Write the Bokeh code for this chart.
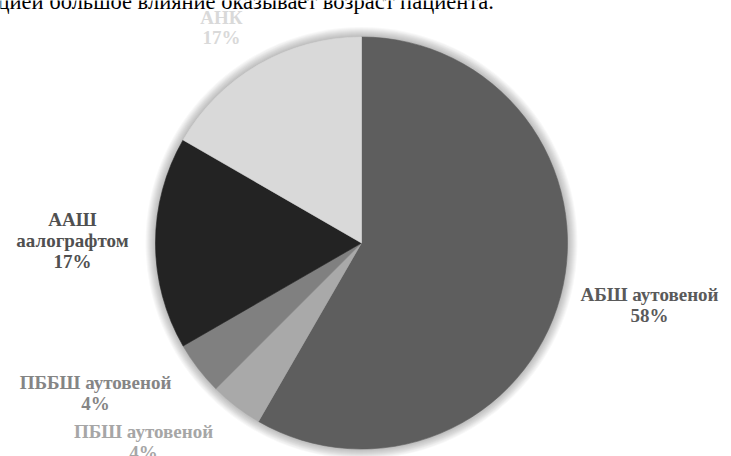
from bokeh.plotting import figure
from bokeh.models import Range1d, ColumnDataSource
from bokeh.core.properties import value
from bokeh.embed import file_html
from bokeh.resources import INLINE
import math

# ---- data (clockwise from 12 o'clock) ----
categories = ["АБШ аутовеной", "ПБШ аутовеной", "ПББШ аутовеной", "ААШ\nаалографтом", "АНК"]
counts = [14, 1, 1, 4, 4]
slice_colors = ["#5e5e5e", "#a9a9a9", "#808080", "#232323", "#d9d9d9"]
label_colors = ["#5a5a5a", "#a6a6a6", "#858585", "#505050", "#d9d9d9"]
top_text = "цией большое влияние оказывает возраст пациента."

W, H = 731, 456
cx, cy, R = 361, 213.5, 206
label_pos = [(649, 151.5), (143, 14.5), (95, 63.5), (72, 216), (221, 429)]

total = sum(counts)
starts, ends, texts = [], [], []
cum = 0
for c, name in zip(counts, categories):
    a0 = 90 - 360 * cum / total
    cum += c
    a1 = 90 - 360 * cum / total
    starts.append(math.radians(a1))
    ends.append(math.radians(a0))
    texts.append(f"{name}\n{round(100 * c / total)}%")

p = figure(width=W, height=H, output_backend="svg", toolbar_location=None,
           x_range=Range1d(0, W), y_range=Range1d(0, H), min_border=0,
           outline_line_color=None)
p.axis.visible = False
p.grid.visible = False
p.background_fill_color = "white"
p.border_fill_color = "white"

serif = value("'Liberation Serif', 'Times New Roman', serif")

# fragment of the document line above the chart (clipped by the top edge)
p.text(x=[-3], y=[H - 0.5], text=[top_text], text_font=serif, text_font_size="22.5px",
       text_color="black", text_align="left", text_baseline="alphabetic")

# soft glow around pie
for k in range(1, 11):
    p.circle(x=[cx], y=[cy], radius=R + k, fill_color="black", fill_alpha=0.028,
             line_color=None)

src = ColumnDataSource(dict(start=starts, end=ends, color=slice_colors))
p.wedge(x=cx, y=cy, radius=R, start_angle="start", end_angle="end",
        fill_color="color", line_color="color", line_width=0.6, source=src)

lsrc = ColumnDataSource(dict(x=[q[0] for q in label_pos], y=[q[1] for q in label_pos],
                             text=texts, color=label_colors))
p.text(x="x", y="y", text="text", source=lsrc, text_color="color",
       text_font=serif, text_font_style="bold",
       text_font_size="19px", text_align="center", text_baseline="middle",
       text_line_height=0.98)

open("out.html", "w").write(file_html(p, INLINE))
